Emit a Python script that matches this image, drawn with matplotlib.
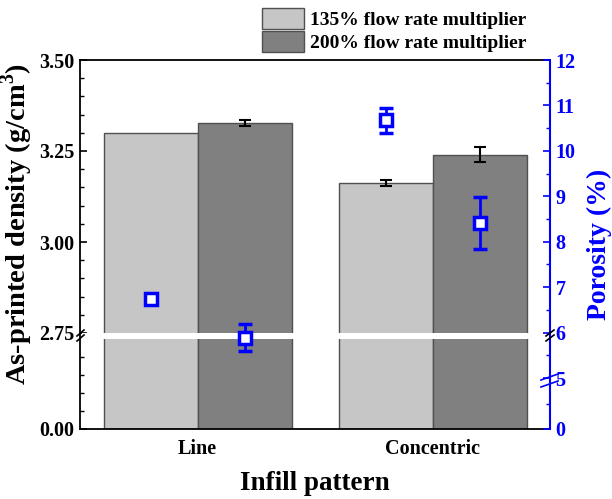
import numpy as np
import matplotlib
matplotlib.use("Agg")
import matplotlib.pyplot as plt
from matplotlib.patches import Patch, Rectangle
from matplotlib.lines import Line2D
from matplotlib.ticker import FixedLocator, FixedFormatter

plt.rcParams['font.family'] = ['Liberation Serif', 'DejaVu Serif']
plt.rcParams['font.weight'] = 'bold'
plt.rcParams['mathtext.fontset'] = 'custom'
plt.rcParams['mathtext.rm'] = 'Liberation Serif:bold'
plt.rcParams['mathtext.bf'] = 'Liberation Serif:bold'

# ---------------- data ----------------
categories = ["Line", "Concentric"]
series_names = ["135% flow rate multiplier", "200% flow rate multiplier"]
density_135 = [3.300, 3.161]
density_135_err = [0.0, 0.008]
density_200 = [3.328, 3.240]
density_200_err = [0.008, 0.020]
porosity_135 = [6.73, 10.67]
porosity_135_err = [0.0, 0.28]
porosity_200 = [5.89, 8.41]
porosity_200_err = [0.29, 0.57]

left_major = [0.0, 2.75, 3.0, 3.25, 3.5]
left_major_labels = ["0.00", "2.75", "3.00", "3.25", "3.50"]
right_major = [0, 5, 6, 7, 8, 9, 10, 11, 12]

# ---------------- broken scales ----------------
def fwd_left(y):
    y = np.asarray(y, float)
    return np.where(y < 2.75, y * 90.0 / 2.75, 96.0 + (y - 2.75) * 364.0)

def inv_left(u):
    u = np.asarray(u, float)
    return np.where(u < 90, u * 2.75 / 90.0,
                    np.where(u < 96, 2.75, 2.75 + (u - 96.0) / 364.0))

def fwd_right(y):
    y = np.asarray(y, float)
    return np.where(y < 5, y * 51.0 / 5.0, 51.0 + (y - 5.0) * 318.0 / 7.0)

def inv_right(u):
    u = np.asarray(u, float)
    return np.where(u < 51, u * 5.0 / 51.0, 5.0 + (u - 51.0) * 7.0 / 318.0)

W, H = 612, 499
TICK_FS = 14.5
fig = plt.figure(figsize=(W / 100, H / 100), dpi=100)
ax = fig.add_axes([80 / W, 1 - 429 / H, 470 / W, 369 / H])
ax.set_yscale('function', functions=(fwd_left, inv_left))
ax.set_ylim(0, 3.5)
ax.set_xlim(-0.5, 1.5)

x = np.arange(len(categories))
bw = 0.4
ax.bar(x - bw / 2, density_135, bw, color='#c6c6c6', edgecolor='#505050', linewidth=1.0, zorder=2)
ax.bar(x + bw / 2, density_200, bw, color='#808080', edgecolor='#505050', linewidth=1.0, zorder=2)

for xs, vals, errs in [(x - bw / 2, density_135, density_135_err), (x + bw / 2, density_200, density_200_err)]:
    for xi, v, e in zip(xs, vals, errs):
        if e > 0:
            ax.errorbar(xi, v, yerr=e, fmt='none', ecolor='black', elinewidth=1.5,
                        capsize=4, capthick=1.5, zorder=3)

# white break band
ax.add_patch(Rectangle((0.004, 90.5 / 369), 0.992, 5.5 / 369, transform=ax.transAxes,
                       facecolor='white', edgecolor='none', zorder=4))

ax.yaxis.set_major_locator(FixedLocator(left_major))
ax.yaxis.set_major_formatter(FixedFormatter(left_major_labels))
left_minor = [0.55, 1.1, 1.65, 2.2] + list(np.round(np.arange(2.8, 3.5, 0.05), 2))
left_minor = [m for m in left_minor if m not in left_major]
ax.yaxis.set_minor_locator(FixedLocator(left_minor))
ax.tick_params(axis='y', which='major', direction='in', length=5, width=1.2, labelsize=TICK_FS, pad=4)
ax.tick_params(axis='y', which='minor', direction='in', length=3, width=1.0)
ax.set_xticks(x)
ax.set_xticklabels(categories)
ax.tick_params(axis='x', length=0, labelsize=TICK_FS, pad=7)
for lab in ax.get_xticklabels() + ax.get_yticklabels():
    lab.set_fontweight('bold')
for s in ['left', 'bottom', 'top']:
    ax.spines[s].set_linewidth(1.3)
    ax.spines[s].set_color('black')
ax.spines['right'].set_visible(False)

ax.set_xlabel("Infill pattern", fontsize=19.5, fontweight='bold', labelpad=9)
ax.set_ylabel(r"As-printed density (g/cm$^{3}$)", fontsize=20.5, fontweight='bold')
ax.yaxis.set_label_coords(-0.095, 0.555)

# right axis
ax2 = ax.twinx()
ax2.set_yscale('function', functions=(fwd_right, inv_right))
ax2.set_ylim(0, 12)
ax2.errorbar(x - bw / 2, porosity_135, yerr=porosity_135_err, fmt='s', ms=8, mfc='white',
             mec='blue', mew=2.5, ecolor='blue', elinewidth=2, capsize=5, capthick=2, zorder=5)
ax2.errorbar(x + bw / 2, porosity_200, yerr=porosity_200_err, fmt='s', ms=8, mfc='white',
             mec='blue', mew=2.5, ecolor='blue', elinewidth=2, capsize=5, capthick=2, zorder=5)
ax2.yaxis.set_major_locator(FixedLocator(right_major))
ax2.yaxis.set_major_formatter(FixedFormatter([str(v) for v in right_major]))
ax2.yaxis.set_minor_locator(FixedLocator([2.5] + [v + 0.5 for v in range(5, 12)]))
ax2.tick_params(axis='y', which='major', direction='in', length=5, width=1.2,
                labelsize=TICK_FS, colors='blue', pad=4)
ax2.tick_params(axis='y', which='minor', direction='in', length=3, width=1.0, colors='blue')
for lab in ax2.get_yticklabels():
    lab.set_fontweight('bold')
for s in ['left', 'bottom', 'top']:
    ax2.spines[s].set_visible(False)
ax2.spines['right'].set_color('blue')
ax2.spines['right'].set_linewidth(1.5)
ax2.set_ylabel("Porosity (%)", fontsize=20, fontweight='bold', color='blue', labelpad=8)

# break marks (figure pixel coords)
def px_line(x0, y0, x1, y1, color, lw=1.2):
    fig.add_artist(Line2D([x0 / W, x1 / W], [1 - y0 / H, 1 - y1 / H],
                          transform=fig.transFigure, color=color, lw=lw, zorder=10))

px_line(77, 336, 84, 330, 'black')
px_line(77, 341, 84, 335, 'black')
px_line(546, 336, 554, 330, 'black')
px_line(546, 341, 554, 335, 'black')
px_line(541, 380, 558, 374, 'blue')
px_line(541, 387, 558, 381, 'blue')

# legend
handles = [Patch(facecolor='#c6c6c6', edgecolor='#505050', linewidth=1.0),
           Patch(facecolor='#808080', edgecolor='#505050', linewidth=1.0)]
leg = fig.legend(handles, series_names, loc='upper left', bbox_to_anchor=(247 / W, 1.014),
                 frameon=False, fontsize=14, handlelength=2.2, handleheight=1.3,
                 handletextpad=0.3, labelspacing=0.12, borderpad=0.25)
for t in leg.get_texts():
    t.set_fontweight('bold')

fig.savefig("out.png", dpi=100)
